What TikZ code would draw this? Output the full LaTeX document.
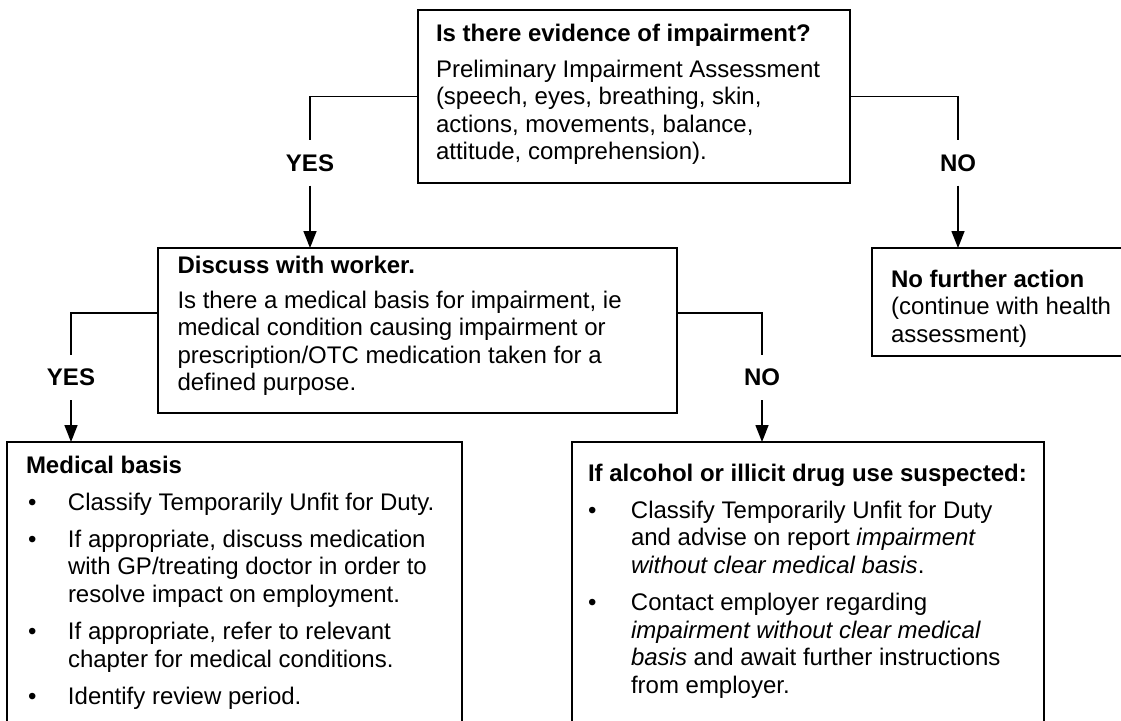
\documentclass[tikz,border=0pt]{standalone}
\usepackage{fontspec}
\setmainfont{Liberation Sans}
\usetikzlibrary{arrows.meta}

% text block: width, paragraph skip, body (line breaks stay inside the paragraph)
\newcommand{\txtblock}[3]{%
  \begin{minipage}[t]{#1}\setlength{\parindent}{0pt}\setlength{\parskip}{#2}\raggedright\let\\\newline #3\end{minipage}}
% bulleted paragraph: hanging indent, bullet offset, text
\newcommand{\bulletpar}[3]{%
  \hangindent=#1\relax\hangafter=1\relax\noindent\makebox[#1][l]{\hspace*{#2}\textbullet}#3\par}

\begin{document}
\begin{tikzpicture}[x=1pt,y=-1pt,
  panel/.style={draw=black, line width=1.5pt, inner sep=0pt, outer sep=0pt, anchor=north west},
  words/.style={anchor=base west, inner sep=0pt, outer sep=0pt, font=\fontsize{24}{27.6}\selectfont},
  choice/.style={font=\fontsize{24}{27.6}\selectfont\bfseries, inner sep=0pt, minimum height=45pt},
  link/.style={line width=1.5pt},
  flow/.style={line width=1.5pt, -{Triangle[length=17pt,width=13pt]}}]
\useasboundingbox (0,0) rectangle (1121,720);
\fill[white] (0,0) rectangle (1121,720);

% boxes
\node[panel, minimum width=432pt, minimum height=173pt] (top) at (418,10) {};
\node[panel, minimum width=519pt, minimum height=165pt] (discuss) at (158,248) {};
\node[panel, minimum width=253pt, minimum height=108pt] (nfa) at (872,248) {};
\node[panel, minimum width=455pt, minimum height=283pt] (medical) at (7,442) {};
\node[panel, minimum width=472pt, minimum height=283pt] (alcohol) at (572,442) {};

% box texts
\node[words] (toptext) at (436,41.5) {\txtblock{410pt}{8pt}{%
  \textbf{Is there evidence of impairment?}\par
  Preliminary Impairment Assessment\\
  (speech, eyes, breathing, skin,\\
  actions, movements, balance,\\
  attitude, comprehension).}};

\node[words] (discusstext) at (177.5,273) {\txtblock{495pt}{7.5pt}{%
  \textbf{Discuss with worker.}\par
  Is there a medical basis for impairment, ie\\
  medical condition causing impairment or\\
  prescription/OTC medication taken for a\\
  defined purpose.}};

\node[words] (nfatext) at (891,287) {\txtblock{228pt}{0pt}{%
  \textbf{No further action}\\
  (continue with health\\
  assessment)}};

\node[words] (medicaltext) at (26,473) {\txtblock{430pt}{9.5pt}{%
  \textbf{Medical basis}\par
  \bulletpar{42pt}{2pt}{Classify Temporarily Unfit for Duty.}
  \bulletpar{42pt}{2pt}{If appropriate, discuss medication\\
    with GP/treating doctor in order to\\
    resolve impact on employment.}
  \bulletpar{42pt}{2pt}{If appropriate, refer to relevant\\
    chapter for medical conditions.}
  \bulletpar{42pt}{2pt}{Identify review period.}}};

\node[words] (alcoholtext) at (588,481) {\txtblock{450pt}{9.5pt}{%
  \textbf{If alcohol or illicit drug use suspected:}\par
  \bulletpar{43pt}{0pt}{Classify Temporarily Unfit for Duty\\
    and advise on report \textit{impairment}\\
    \textit{without clear medical basis}.}
  \bulletpar{43pt}{0pt}{Contact employer regarding\\
    \textit{impairment without clear medical}\\
    \textit{basis} and await further instructions\\
    from employer.}}};

% decision labels
\node[choice] (yes1) at (310,163) {YES};
\node[choice] (no1) at (958,163) {NO};
\node[choice] (yes2) at (71,377.5) {YES};
\node[choice] (no2) at (762,377.5) {NO};

% connectors
\draw[link] (top.west) -| (yes1.north);
\draw[flow] (yes1.south) -- (yes1.south |- discuss.north);
\draw[link] (top.east) -| (no1.north);
\draw[flow] (no1.south) -- (no1.south |- nfa.north);
\draw[link] ([yshift=-65pt]discuss.north west) -| (yes2.north);
\draw[flow] (yes2.south) -- (yes2.south |- medical.north);
\draw[link] ([yshift=-65pt]discuss.north east) -| (no2.north);
\draw[flow] (no2.south) -- (no2.south |- alcohol.north);
\end{tikzpicture}
\end{document}
